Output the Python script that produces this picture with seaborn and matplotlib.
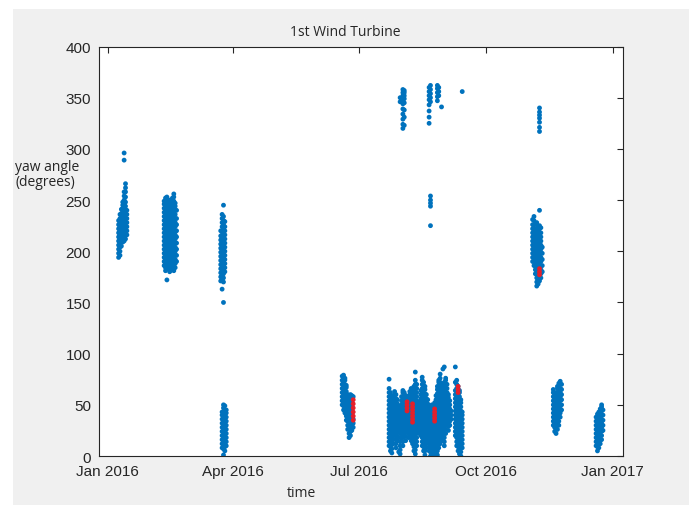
import pandas as pd
import seaborn as sns
import matplotlib.pyplot as plt
import matplotlib.dates as mdates
from matplotlib.patches import Rectangle

# yaw angle readings, grouped per day: (date, [angles])
jan_pts = [
    ("2016-01-09", [194, 198, 202, 206, 210, 214, 218, 222, 226, 230]),
    ("2016-01-10", [196, 200, 204, 208, 212, 216, 220, 224, 228, 232, 236]),
    ("2016-01-11", [205, 209, 213, 217, 221, 225, 229, 233, 237, 241]),
    ("2016-01-12", [209, 213, 217, 221, 225, 229, 233, 237, 241, 245, 248]),
    ("2016-01-13", [210, 214, 218, 222, 226, 230, 234, 238, 242, 246, 250, 254, 258, 289, 296]),
    ("2016-01-14", [212, 216, 220, 224, 228, 232, 236, 240, 244, 248, 253, 258, 262, 266]),
    ("2016-01-15", [216, 220, 224, 228, 232, 236, 240]),
]
feb_pts = [
    ("2016-02-11", [186, 190, 194, 198, 202, 206, 210, 214, 218, 222, 226, 230, 234, 238, 242, 246, 249]),
    ("2016-02-12", [181, 184, 188, 192, 196, 200, 204, 208, 212, 216, 220, 224, 228, 232, 236, 240, 244, 248, 252]),
    ("2016-02-13", [172, 184, 186, 190, 194, 198, 202, 206, 210, 214, 218, 222, 226, 230, 234, 238, 242, 246, 250, 253]),
    ("2016-02-14", [183, 187, 191, 195, 199, 203, 207, 211, 215, 219, 223, 227, 231, 235, 239, 243, 246]),
    ("2016-02-15", [180, 184, 188, 192, 196, 200, 204, 208, 212, 216, 220, 224, 228, 232, 236, 240, 244, 248, 250]),
    ("2016-02-16", [185, 189, 193, 197, 201, 205, 209, 213, 217, 221, 225, 229, 233, 237, 241, 245, 248]),
    ("2016-02-17", [182, 186, 190, 194, 198, 202, 206, 210, 214, 218, 222, 226, 230, 234, 238, 242, 246, 250, 252]),
    ("2016-02-18", [181, 185, 189, 193, 197, 201, 205, 209, 213, 217, 221, 225, 229, 233, 237, 241, 245, 249, 253, 256]),
    ("2016-02-19", [184, 188, 192, 196, 200, 204, 208, 212, 216, 220, 224, 228, 232, 236, 240, 244, 247]),
    ("2016-02-20", [190, 196, 202, 208, 214, 220, 226, 232, 240]),
]
mar_pts = [
    ("2016-03-23", [171, 175, 179, 183, 187, 191, 195, 199, 203, 207, 211, 215, 220]),
    ("2016-03-24", [163, 172, 176, 180, 184, 188, 192, 196, 200, 204, 208, 212, 216, 220, 224, 228, 232, 236,
                    8, 12, 16, 20, 24, 28, 32, 36, 40, 43]),
    ("2016-03-25", [150, 170, 174, 178, 182, 186, 190, 194, 198, 202, 206, 210, 214, 218, 222, 226, 230, 234, 245,
                    1, 7, 11, 15, 19, 23, 27, 31, 35, 39, 43, 47, 50]),
    ("2016-03-26", [180, 184, 188, 192, 196, 200, 204, 208, 212, 216, 220, 224, 229,
                    5, 9, 13, 17, 21, 25, 29, 33, 37, 41, 45, 49]),
    ("2016-03-27", [10, 14, 18, 22, 26, 30, 34, 38, 42, 45]),
]
jun_pts = [
    ("2016-06-19", [50, 54, 58, 62, 66, 70, 74, 78]),
    ("2016-06-20", [45, 49, 53, 57, 61, 65, 69, 73, 77, 79]),
    ("2016-06-21", [42, 46, 50, 54, 58, 62, 66, 70, 74, 76]),
    ("2016-06-22", [35, 39, 43, 47, 51, 55, 59, 63, 67, 69]),
    ("2016-06-23", [26, 30, 34, 38, 42, 46, 50, 54, 58, 60]),
    ("2016-06-24", [18, 22, 26, 30, 34, 38, 42, 46, 50, 54, 58]),
    ("2016-06-25", [20, 24, 28, 32, 36, 40, 44, 48, 52, 56, 60]),
    ("2016-06-26", [25, 29, 33, 37, 41, 45, 49, 53, 56, 59]),
    ("2016-06-27", [28, 32, 36, 58]),
]
summer_pts = [
    ("2016-07-23", [10, 14, 18, 22, 26, 30, 34, 38, 42, 46, 50, 54, 58, 62, 66, 75]),
    ("2016-07-24", [5, 9, 13, 17, 21, 25, 29, 33, 37, 41, 45, 49, 53, 57, 62]),
    ("2016-07-25", [3, 7, 11, 15, 19, 23, 27, 31, 35, 39, 43, 47, 51, 55, 59]),
    ("2016-07-26", [12, 16, 20, 24, 28, 32, 36, 40, 44, 48, 52, 56]),
    ("2016-07-27", [20, 24, 28, 32, 36, 40, 44, 48, 52, 56, 60, 63]),
    ("2016-07-28", [8, 12, 16, 20, 24, 28, 32, 36, 40, 44, 48, 52, 56, 60]),
    ("2016-07-29", [15, 19, 23, 27, 31, 35, 39, 43, 47, 51, 55]),
    ("2016-07-30", [4, 25, 29, 33, 37, 41, 45, 49]),
    ("2016-07-31", [2, 6, 10, 14, 18, 22, 26, 30, 34, 38, 42, 45]),
    ("2016-08-01", [18, 22, 26, 30, 34, 38, 42, 46, 50, 54, 58]),
    ("2016-08-02", [10, 14, 18, 22, 26, 30, 34, 38, 42, 46, 50, 54, 58, 62, 64]),
    ("2016-08-03", [20, 24, 28, 32, 36, 40, 44, 48, 52, 56, 60, 62]),
    ("2016-08-04", [15, 19, 23, 27, 31, 35, 39, 43, 47, 51, 55, 59]),
    ("2016-08-05", [25, 29, 33, 37, 41, 45, 49, 53, 58]),
    ("2016-08-06", [18, 22, 26, 30, 34, 38, 42, 46, 50, 54, 58]),
    ("2016-08-07", [20, 24, 28, 32, 36, 40, 44, 48, 52, 56, 60, 63]),
    ("2016-08-08", [15, 19, 23, 27, 31, 35, 39, 43, 47, 51, 55, 59, 63, 66]),
    ("2016-08-09", [12, 16, 20, 24, 28, 32, 36, 40, 44, 48, 52, 56, 60]),
    ("2016-08-10", [5, 9, 13, 17, 21, 25, 29, 33, 37, 41, 45, 49, 53, 57, 61, 65, 68]),
    ("2016-08-11", [2, 6, 10, 14, 18, 22, 26, 30, 34, 38, 42, 46, 50, 54, 58, 62, 66, 70, 74, 82]),
    ("2016-08-12", [10, 14, 18, 22, 26, 30, 34, 38, 42, 46, 50, 54, 58, 62, 66, 70]),
    ("2016-08-13", [25, 29, 33, 37, 41, 45, 49, 53]),
    ("2016-08-14", [22, 26, 30, 34, 38, 42, 46, 50]),
    ("2016-08-15", [20, 24, 28, 32, 36, 40, 44, 48, 52, 56, 60, 64]),
    ("2016-08-16", [10, 14, 18, 22, 26, 30, 34, 38, 42, 46, 50, 54, 58, 62, 66, 70, 74, 77]),
    ("2016-08-17", [5, 9, 13, 17, 21, 25, 29, 33, 37, 41, 45, 49, 53, 57, 61, 65, 69, 72]),
    ("2016-08-18", [1, 5, 9, 13, 17, 21, 25, 29, 33, 37, 41, 45, 49, 53, 57, 61, 65, 68]),
    ("2016-08-19", [8, 12, 16, 20, 24, 28, 32, 36, 40, 44, 48, 52, 56, 60]),
    ("2016-08-20", [15, 19, 23, 27, 31, 35, 39, 43, 47, 51, 55]),
    ("2016-08-21", [5, 9, 13, 17, 21, 25, 29, 33, 37, 41, 45, 49]),
    ("2016-08-22", [0, 4, 8, 12, 16, 20, 24, 28, 32, 36, 40, 44, 48]),
    ("2016-08-23", [2, 6, 10, 14, 18, 22, 26, 30, 34, 38, 42, 46, 50]),
    ("2016-08-24", [1, 5, 9, 13, 17, 21, 25, 29, 33, 37, 41, 46]),
    ("2016-08-25", [0, 4, 8, 12, 16, 20, 24, 28, 32, 36, 40, 44, 48, 52]),
    ("2016-08-26", [3, 7, 11, 15, 19, 23, 27, 31, 35, 39, 43, 47, 51, 55, 59]),
    ("2016-08-27", [1, 5, 9, 13, 17, 21, 25, 29, 33, 37, 41, 45, 49, 53, 57, 61, 65, 68]),
    ("2016-08-28", [8, 12, 16, 20, 24, 28, 32, 36, 40, 44, 48, 52, 56, 60, 64, 68, 72, 74]),
    ("2016-08-29", [12, 16, 20, 24, 28, 32, 36, 40, 44, 48, 52, 56, 60, 64, 68, 72, 76, 80]),
    ("2016-08-30", [20, 24, 28, 32, 36, 40, 44, 48, 52, 56, 60, 64, 68, 70]),
    ("2016-08-31", [15, 19, 23, 27, 31, 35, 39, 43, 47, 51, 55, 59, 63, 65, 85]),
    ("2016-09-01", [10, 14, 18, 22, 26, 30, 34, 38, 42, 46, 50, 54, 58, 62, 66, 70, 72, 87]),
    ("2016-09-02", [22, 26, 30, 34, 38, 42, 46, 50, 54, 58, 62, 66, 70, 74, 76]),
    ("2016-09-03", [30, 34, 38, 42, 46, 50, 54, 58, 62, 66, 70]),
    ("2016-09-04", [25, 29, 33, 37, 41, 45, 49, 53, 57, 60]),
    ("2016-09-05", [30, 34, 38, 42, 46, 50, 54]),
    ("2016-09-06", [36, 40, 44]),
    ("2016-09-09", [20, 24, 28, 32, 36, 40, 44, 48, 52, 56, 60, 64, 72, 87]),
    ("2016-09-10", [10, 14, 18, 22, 26, 30, 34, 38, 42, 46, 50, 54, 58, 62, 66, 70, 74]),
    ("2016-09-11", [5, 9, 13, 17, 21, 25, 29, 33, 37, 41, 45, 49, 53, 57, 61, 65, 68]),
    ("2016-09-12", [2, 6, 10, 14, 18, 22, 26, 30, 34, 38, 42, 46, 50, 54, 58, 62, 64]),
    ("2016-09-13", [0, 4, 8, 12, 16, 20, 24, 28, 32, 36, 40, 44, 48, 52, 55]),
    ("2016-09-14", [8, 12, 16, 20, 24, 28, 32, 36, 40, 43]),
]
wrap_pts = [
    ("2016-07-31", [346, 350]),
    ("2016-08-02", [320, 324, 329, 334, 339, 344, 348, 352, 355, 358]),
    ("2016-08-03", [323, 331, 338, 345, 349, 352, 355, 357]),
    ("2016-08-21", [325, 331, 337, 343, 348, 352, 356, 360]),
    ("2016-08-22", [346, 350, 354, 358, 362, 244, 247, 250, 254, 225]),
    ("2016-08-27", [347, 351, 355, 359, 362]),
    ("2016-08-28", [352, 356, 360]),
    ("2016-08-30", [341]),
    ("2016-09-14", [356]),
]
nov_pts = [
    ("2016-11-04", [190, 194, 198, 202, 206, 210, 214, 218, 222, 226, 231]),
    ("2016-11-05", [186, 190, 194, 198, 202, 206, 210, 214, 218, 222, 226, 230, 234]),
    ("2016-11-06", [178, 182, 186, 190, 194, 198, 202, 206, 210, 214, 218, 222, 227]),
    ("2016-11-07", [166, 170, 174, 178, 182, 186, 190, 194, 198, 202, 206, 210, 214, 218, 222, 226, 228]),
    ("2016-11-08", [168, 172, 176, 180, 184, 188, 192, 196, 200, 204, 208, 212, 216, 220, 224]),
    ("2016-11-09", [171, 175, 186, 190, 194, 198, 202, 206, 210, 214, 218, 222, 225, 240,
                    317, 321, 326, 330, 333, 336, 340]),
    ("2016-11-10", [174, 178, 182, 186, 190, 194, 198, 202, 206, 210, 214, 218, 223]),
    ("2016-11-11", [180, 186, 192, 198, 204]),
    ("2016-11-19", [30, 34, 38, 42, 46, 50, 54, 58, 62, 65]),
    ("2016-11-20", [24, 28, 32, 36, 40, 44, 48, 52, 56, 59]),
    ("2016-11-21", [22, 26, 30, 34, 38, 42, 46, 50, 54, 58, 62]),
    ("2016-11-22", [26, 30, 34, 38, 42, 46, 50, 54, 58, 62, 66, 68]),
    ("2016-11-23", [30, 34, 38, 42, 46, 50, 54, 58, 62, 66, 71]),
    ("2016-11-24", [38, 42, 46, 50, 54, 58, 62, 66, 70, 73]),
    ("2016-11-25", [45, 50, 55, 60, 65, 70]),
]
dec_pts = [
    ("2016-12-20", [10, 14, 18, 22, 26, 30, 34, 38]),
    ("2016-12-21", [5, 9, 13, 17, 21, 25, 29, 33, 37, 41]),
    ("2016-12-22", [8, 12, 16, 20, 24, 28, 32, 36, 40, 43]),
    ("2016-12-23", [12, 16, 20, 24, 28, 32, 36, 40, 44, 46]),
    ("2016-12-24", [16, 20, 24, 28, 32, 36, 40, 44, 48, 50]),
    ("2016-12-25", [25, 30, 35, 40, 45]),
]
# readings highlighted in red
flagged_pts = [
    ("2016-06-27", [35, 39, 43, 47, 51, 55]),
    ("2016-08-05", [44, 47, 50, 53]),
    ("2016-08-09", [33, 36, 39, 42, 45, 48, 51]),
    ("2016-08-25", [34, 37, 40, 43, 46]),
    ("2016-09-11", [62, 65, 68]),
    ("2016-11-09", [177, 180, 183]),
]

x_ticks = ["2016-01-01", "2016-04-01", "2016-07-01", "2016-10-01", "2017-01-01"]
y_ticks = [0, 50, 100, 150, 200, 250, 300, 350, 400]


def to_frame(rows, status):
    recs = [(pd.Timestamp(d), y, status) for d, ys in rows for y in ys]
    return pd.DataFrame(recs, columns=["time", "yaw", "status"])


normal = jan_pts + feb_pts + mar_pts + jun_pts + summer_pts + wrap_pts + nov_pts + dec_pts
df = pd.concat([to_frame(normal, "normal"), to_frame(flagged_pts, "flagged")],
               ignore_index=True)

sns.set_style("white")
plt.rcParams["font.family"] = ["Liberation Sans", "DejaVu Sans"]

fig, ax = plt.subplots(figsize=(6.89, 5.06), dpi=100)
fig.patch.set_facecolor("#f0f0f0")
ax.set_position([0.1441, 0.0968, 0.7601, 0.8093])

sns.scatterplot(data=df, x="time", y="yaw", hue="status",
                palette={"normal": "#0072bd", "flagged": "#e3202b"},
                s=12, linewidth=0, alpha=1, legend=False, ax=ax)

ax.set_xlim(pd.Timestamp("2015-12-26"), pd.Timestamp("2017-01-08 12:00"))
ax.set_ylim(0, 400)
ax.set_xticks([pd.Timestamp(t) for t in x_ticks])
ax.xaxis.set_major_formatter(mdates.DateFormatter("%b %Y"))
ax.set_yticks(y_ticks)
ax.set_xlabel("")
ax.set_ylabel("")

ax.tick_params(direction="in", length=4, width=0.8, top=True, right=True,
               color="#262626", labelcolor="#262626", labelsize=11, pad=6)
for sp in ax.spines.values():
    sp.set_color("#262626")
    sp.set_linewidth(0.8)

fig.text(345 / 689, 1 - 32 / 506, "1st Wind Turbine", ha="center", va="center",
         fontsize=10, family="Open Sans", color="#262626")
fig.text(15 / 689, 1 - 175 / 506, "yaw angle\n(degrees)", ha="left", va="center",
         fontsize=10, family="Open Sans", color="#262626", linespacing=1.0)
fig.text(301 / 689, 1 - 494 / 506, "time", ha="center", va="center",
         fontsize=10, family="Open Sans", color="#262626")

# white frame around the grey figure panel
fig.add_artist(Rectangle((0, 0), 13 / 689, 1, transform=fig.transFigure,
                         facecolor="white", edgecolor="none"))
fig.add_artist(Rectangle((0, 1 - 10 / 506), 1, 10 / 506, transform=fig.transFigure,
                         facecolor="white", edgecolor="none"))

fig.savefig("out.png", dpi=100, facecolor=fig.get_facecolor())
